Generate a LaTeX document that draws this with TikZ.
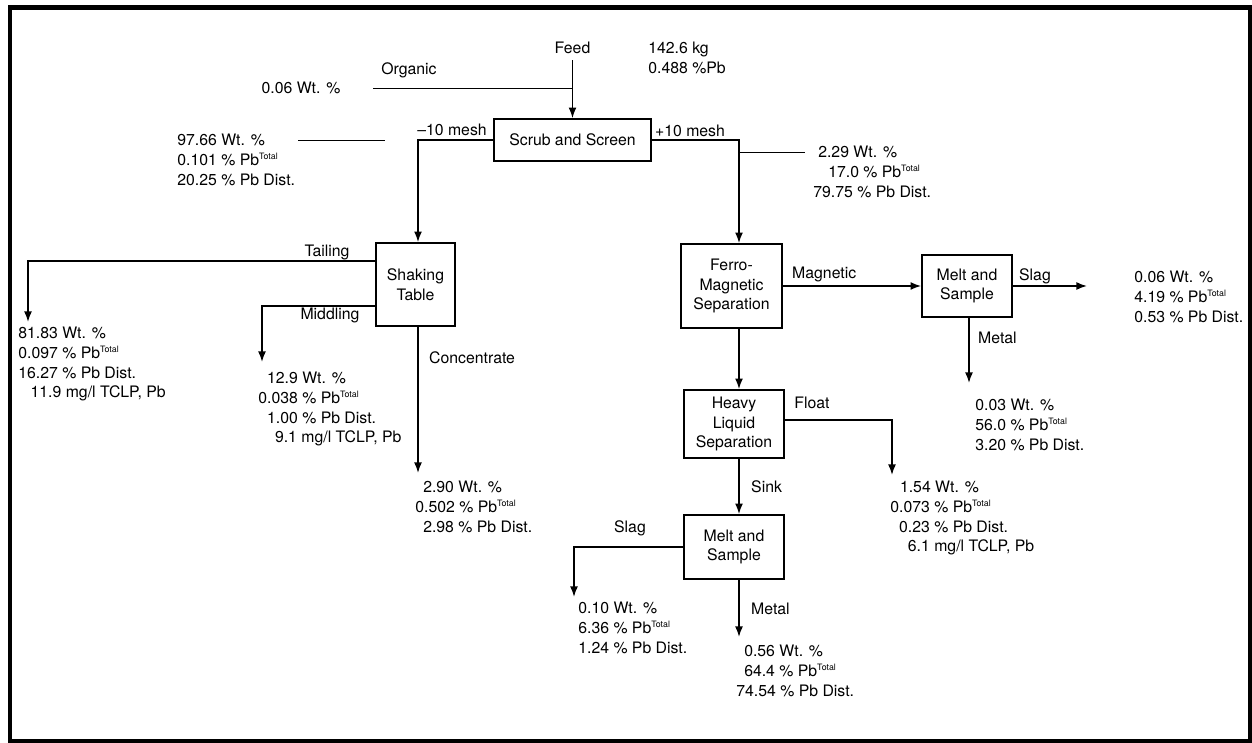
\documentclass[tikz,border=0pt]{standalone}
\usepackage{fontspec}
\setmainfont{TeX Gyre Heros}
\usetikzlibrary{arrows.meta}
\tikzset{>={Latex[length=6pt,width=4.5pt]}}
\tikzset{
  unit/.style={draw,line width=1pt,align=center,inner sep=0pt},
  data/.style={inner sep=0pt,align=left,anchor=north west},
  flow/.style={line width=0.9pt,->},
  tick/.style={line width=0.5pt}
}
\newcommand{\tot}{\raisebox{3.6pt}{\fontsize{5}{5}\selectfont Total}}

\begin{document}
\begin{tikzpicture}[x=0.02cm,y=-0.02cm,font=\fontsize{9}{11.2}\selectfont]
    \useasboundingbox (0,0) rectangle (1252,743);
    \draw[line width=0.1cm] (10,8) rectangle (1250,741);

    % process units
    \node[unit,minimum width=3.14cm,minimum height=0.84cm] (scrub) at (572.5,140) {Scrub and Screen};
    \node[unit,minimum width=1.58cm,minimum height=1.66cm] (shake) at (415.5,284.5) {Shaking\\Table};
    \node[unit,minimum width=2.02cm,minimum height=1.68cm] (ferro) at (731.5,286) {Ferro-\\Magnetic\\Separation};
    \node[unit,minimum width=1.8cm,minimum height=1.24cm] (melta) at (967,286) {Melt and\\Sample};
    \node[unit,minimum width=2.0cm,minimum height=1.36cm] (heavy) at (734,424) {Heavy\\Liquid\\Separation};
    \node[unit,minimum width=2.0cm,minimum height=1.28cm] (meltb) at (734,547) {Melt and\\Sample};

    % stream labels
    \node (feed) at (572.5,48) {Feed};
    \node (organic) at (409,70) {Organic};
    \node (orgwt) at (301,88) {0.06 Wt. \%};
    \node (minus) at (452,130) {--10 mesh};
    \node (plus) at (690,131) {+10 mesh};
    \node (tailing) at (327,252) {Tailing};
    \node (middling) at (330,315) {Middling};
    \node[anchor=west] (conc) at (423,358) {Concentrate};
    \node[anchor=west] (magnetic) at (786,274) {Magnetic};
    \node (slaga) at (1035,276) {Slag};
    \node[anchor=west] (metala) at (972,338) {Metal};
    \node (float) at (812,403) {Float};
    \node[anchor=west] (sink) at (745,487) {Sink};
    \node (slagb) at (630,528) {Slag};
    \node[anchor=west] (metalb) at (745,609) {Metal};

    % assay blocks
    \node[data] (charge) at (648,42) {142.6 kg\\0.488 \%Pb};
    \node[data] (fines) at (177,134) {97.66 Wt. \%\\0.101 \% Pb\tot\\20.25 \% Pb Dist.};
    \node[data] (coarse) at (813,146) {\hspace*{2.8pt}2.29 Wt. \%\\\hspace*{8.5pt}17.0 \% Pb\tot\\79.75 \% Pb Dist.};
    \node[data] (tail) at (18,327) {81.83 Wt. \%\\0.097 \% Pb\tot\\16.27 \% Pb Dist.\\\hspace*{7pt}11.9 mg/l TCLP, Pb};
    \node[data] (midd) at (258,372) {\hspace*{5pt}12.9 Wt. \%\\0.038 \% Pb\tot\\\hspace*{5pt}1.00 \% Pb Dist.\\\hspace*{9.5pt}9.1 mg/l TCLP, Pb};
    \node[data] (concd) at (415,481) {\hspace*{4.5pt}2.90 Wt. \%\\0.502 \% Pb\tot\\\hspace*{4.5pt}2.98 \% Pb Dist.};
    \node[data] (slagad) at (1134,271) {0.06 Wt. \%\\4.19 \% Pb\tot\\0.53 \% Pb Dist.};
    \node[data] (metalad) at (975,399) {0.03 Wt. \%\\56.0 \% Pb\tot\\3.20 \% Pb Dist.};
    \node[data] (floatd) at (890,481) {\hspace*{5.5pt}1.54 Wt. \%\\0.073 \% Pb\tot\\\hspace*{5pt}0.23 \% Pb Dist.\\\hspace*{10pt}6.1 mg/l TCLP, Pb};
    \node[data] (slagbd) at (578,602) {0.10 Wt. \%\\6.36 \% Pb\tot\\1.24 \% Pb Dist.};
    \node[data] (metalbd) at (736,645) {\hspace*{4.5pt}0.56 Wt. \%\\\hspace*{4.5pt}64.4 \% Pb\tot\\74.54 \% Pb Dist.};

    % spines and free ends
    \coordinate (chute) at (418,0);
    \coordinate (spine) at (739,0);
    \coordinate (orgend) at (373,88);
    \coordinate (finesa) at (298,140);
    \coordinate (finesb) at (385,140);
    \coordinate (coarseend) at (805,152);
    \coordinate (tailout) at (28,322);
    \coordinate (middout) at (262,362);
    \coordinate (concout) at (418,473);
    \coordinate (slagaout) at (1087,286);
    \coordinate (metalaout) at (969,383);
    \coordinate (floatout) at (892,475);
    \coordinate (slagbout) at (574,597);
    \coordinate (metalbout) at (739,637);

    % flows
    \draw[flow] (feed.south) -- (scrub.north);
    \draw[tick] (orgend) -- (orgend -| scrub.north);
    \draw[tick] (finesa) -- (finesb);
    \draw[tick] (coarseend -| spine) -- (coarseend);
    \draw[flow] (scrub.west) -| (shake.north -| chute);
    \draw[flow] (scrub.east) -| (ferro.north -| spine);
    \draw[flow] (shake.west |- 0,261) -| (tailout);
    \draw[flow] (shake.west |- 0,306) -| (middout);
    \draw[flow] (shake.south -| chute) -- (concout);
    \draw[flow] (ferro.east) -- (melta.west);
    \draw[flow] (melta.east) -- (slagaout);
    \draw[flow] (melta.south -| metalaout) -- (metalaout);
    \draw[flow] (ferro.south -| spine) -- (heavy.north -| spine);
    \draw[flow] (heavy.east |- 0,420) -| (floatout);
    \draw[flow] (heavy.south -| spine) -- (meltb.north -| spine);
    \draw[flow] (meltb.west) -| (slagbout);
    \draw[flow] (meltb.south -| spine) -- (metalbout);
\end{tikzpicture}
\end{document}
